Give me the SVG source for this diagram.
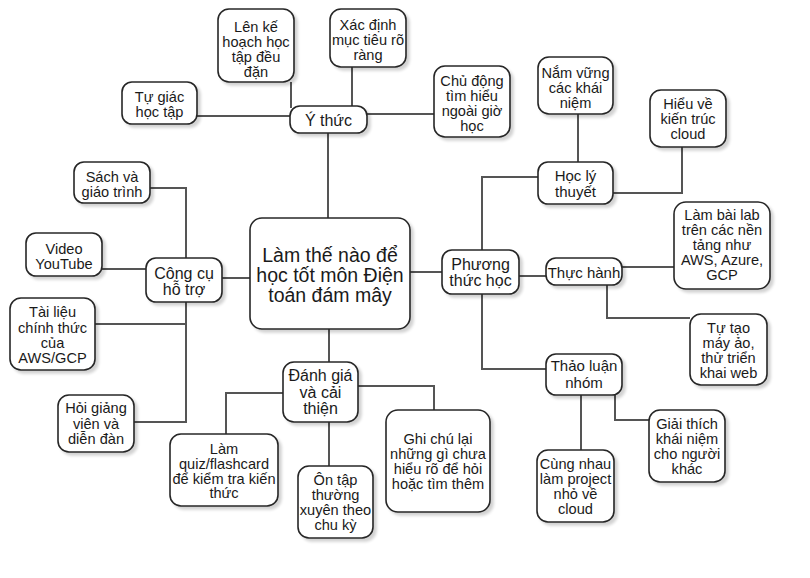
<svg xmlns="http://www.w3.org/2000/svg" width="810" height="578" viewBox="0 0 810 578">
<defs>
<filter id="sh" x="-20%" y="-20%" width="150%" height="150%">
<feGaussianBlur in="SourceAlpha" stdDeviation="1.5"/>
<feOffset dx="3" dy="3" result="o"/>
<feComponentTransfer><feFuncA type="linear" slope="0.18"/></feComponentTransfer>
<feMerge><feMergeNode/><feMergeNode in="SourceGraphic"/></feMerge>
</filter>
</defs>
<style>
.n rect{fill:#fff;stroke:#262626;stroke-width:1.6;filter:url(#sh)}
.n text{font-family:"Liberation Sans",Arial,sans-serif;fill:#1a1a1a;text-anchor:middle}
.leaf text{font-size:14.6px}
.mid text{font-size:16px}
.sub text{font-size:15px}
.root text{font-size:19.5px}
#edges path{fill:none;stroke:#555;stroke-width:2}
</style>
<rect width="810" height="578" fill="#fff"/>
<g id="edges">
<path d="M197 116H290"/>
<path d="M291 82V108"/>
<path d="M352 67V106"/>
<path d="M367 114H434"/>
<path d="M328 133V218"/>
<path d="M150 188H186V258"/>
<path d="M102 269H146"/>
<path d="M95 324H186"/>
<path d="M134 422H186V302"/>
<path d="M222 278H250"/>
<path d="M329 329V362"/>
<path d="M283 393H226V434"/>
<path d="M329 422V466"/>
<path d="M358 386H434V410"/>
<path d="M410 272H442"/>
<path d="M538 177H482V250"/>
<path d="M482 294V369H546"/>
<path d="M578 114V162"/>
<path d="M613 193H682V147"/>
<path d="M519 276H546"/>
<path d="M622 267H674"/>
<path d="M607 285V318H690"/>
<path d="M581 395V450"/>
<path d="M615 395V420H649"/>
</g>
<g id="root" class="n root">
<rect x="250" y="218" width="160" height="111" rx="12"/>
<text x="330" y="261.5">Làm thế nào để</text>
<text x="330" y="282">học tốt môn Điện</text>
<text x="330" y="302">toán đám mây</text>
</g>
<g id="y-thuc" class="n mid">
<rect x="290" y="106" width="77" height="27" rx="10"/>
<text x="328.5" y="125.5">Ý thức</text>
</g>
<g id="len-ke" class="n leaf">
<rect x="218" y="9" width="76" height="73" rx="11"/>
<text x="256" y="31.5">Lên kế</text>
<text x="256" y="46.5">hoạch học</text>
<text x="256" y="61.5">tập đều</text>
<text x="256" y="76.5">đặn</text>
</g>
<g id="xac-dinh" class="n leaf">
<rect x="330" y="9" width="76" height="58" rx="11"/>
<text x="368" y="29.5">Xác định</text>
<text x="368" y="44.5">mục tiêu rõ</text>
<text x="368" y="59.5">ràng</text>
</g>
<g id="chu-dong" class="n leaf">
<rect x="434" y="66" width="76" height="71" rx="11"/>
<text x="472" y="85.5">Chủ động</text>
<text x="472" y="100.5">tìm hiểu</text>
<text x="472" y="115.5">ngoài giờ</text>
<text x="472" y="130.5">học</text>
</g>
<g id="tu-giac" class="n leaf">
<rect x="122" y="82" width="75" height="42" rx="10"/>
<text x="159.5" y="101.5">Tự giác</text>
<text x="159.5" y="116.5">học tập</text>
</g>
<g id="cong-cu" class="n mid">
<rect x="146" y="258" width="76" height="44" rx="10"/>
<text x="184" y="278.5">Công cụ</text>
<text x="184" y="295">hỗ trợ</text>
</g>
<g id="sach" class="n leaf">
<rect x="74" y="162" width="76" height="41" rx="10"/>
<text x="112" y="182">Sách và</text>
<text x="112" y="197">giáo trình</text>
</g>
<g id="video" class="n leaf">
<rect x="26" y="233" width="76" height="43" rx="10"/>
<text x="64" y="254">Video</text>
<text x="64" y="269">YouTube</text>
</g>
<g id="tai-lieu" class="n leaf">
<rect x="10" y="298" width="85" height="72" rx="11"/>
<text x="52.5" y="316.5">Tài liệu</text>
<text x="52.5" y="332.5">chính thức</text>
<text x="52.5" y="347.5">của</text>
<text x="52.5" y="362.5">AWS/GCP</text>
</g>
<g id="hoi-giang-vien" class="n leaf">
<rect x="58" y="395" width="76" height="57" rx="11"/>
<text x="96" y="413">Hỏi giảng</text>
<text x="96" y="428.5">viên và</text>
<text x="96" y="443.5">diễn đàn</text>
</g>
<g id="danh-gia" class="n mid">
<rect x="283" y="362" width="75" height="60" rx="11"/>
<text x="320.5" y="381">Đánh giá</text>
<text x="320.5" y="397.5">và cải</text>
<text x="320.5" y="413.5">thiện</text>
</g>
<g id="lam-quiz" class="n leaf">
<rect x="170" y="434" width="108" height="72" rx="11"/>
<text x="224" y="454">Làm</text>
<text x="224" y="468.5">quiz/flashcard</text>
<text x="224" y="483.5">để kiểm tra kiến</text>
<text x="224" y="498">thức</text>
</g>
<g id="on-tap" class="n leaf">
<rect x="298" y="466" width="75" height="72" rx="11"/>
<text x="335.5" y="485">Ôn tập</text>
<text x="335.5" y="500">thường</text>
<text x="335.5" y="515">xuyên theo</text>
<text x="335.5" y="529.5">chu kỳ</text>
</g>
<g id="ghi-chu" class="n leaf">
<rect x="386" y="410" width="104" height="102" rx="12"/>
<text x="438" y="443.5">Ghi chú lại</text>
<text x="438" y="458.5">những gì chưa</text>
<text x="438" y="473.5">hiểu rõ để hỏi</text>
<text x="438" y="488.5">hoặc tìm thêm</text>
</g>
<g id="phuong-thuc" class="n mid">
<rect x="442" y="250" width="77" height="44" rx="10"/>
<text x="480.5" y="269.5">Phương</text>
<text x="480.5" y="286">thức học</text>
</g>
<g id="hoc-ly-thuyet" class="n sub">
<rect x="538" y="162" width="75" height="42" rx="10"/>
<text x="575.5" y="180.5">Học lý</text>
<text x="575.5" y="197">thuyết</text>
</g>
<g id="nam-vung" class="n leaf">
<rect x="538" y="57" width="75" height="57" rx="11"/>
<text x="575.5" y="78">Nắm vững</text>
<text x="575.5" y="93">các khái</text>
<text x="575.5" y="107.5">niệm</text>
</g>
<g id="hieu-ve" class="n leaf">
<rect x="650" y="90" width="76" height="57" rx="11"/>
<text x="688" y="108.5">Hiểu về</text>
<text x="688" y="123.5">kiến trúc</text>
<text x="688" y="139">cloud</text>
</g>
<g id="thuc-hanh" class="n sub">
<rect x="546" y="258" width="76" height="27" rx="10"/>
<text x="584" y="277.5">Thực hành</text>
</g>
<g id="lam-bai-lab" class="n leaf">
<rect x="674" y="202" width="96" height="87" rx="12"/>
<text x="722" y="220">Làm bài lab</text>
<text x="722" y="235">trên các nền</text>
<text x="722" y="250">tảng như</text>
<text x="722" y="265">AWS, Azure,</text>
<text x="722" y="280">GCP</text>
</g>
<g id="tu-tao" class="n leaf">
<rect x="690" y="314" width="77" height="71" rx="11"/>
<text x="728.5" y="333">Tự tạo</text>
<text x="728.5" y="348">máy ảo,</text>
<text x="728.5" y="363">thử triển</text>
<text x="728.5" y="378">khai web</text>
</g>
<g id="thao-luan" class="n sub">
<rect x="546" y="354" width="76" height="41" rx="10"/>
<text x="584" y="371">Thảo luận</text>
<text x="584" y="387.5">nhóm</text>
</g>
<g id="cung-nhau" class="n leaf">
<rect x="537" y="450" width="77" height="72" rx="11"/>
<text x="575.5" y="468.5">Cùng nhau</text>
<text x="575.5" y="483.5">làm project</text>
<text x="575.5" y="498.5">nhỏ về</text>
<text x="575.5" y="513.5">cloud</text>
</g>
<g id="giai-thich" class="n leaf">
<rect x="649" y="410" width="76" height="72" rx="11"/>
<text x="687" y="428.5">Giải thích</text>
<text x="687" y="443.5">khái niệm</text>
<text x="687" y="458.5">cho người</text>
<text x="687" y="473.5">khác</text>
</g>
</svg>
